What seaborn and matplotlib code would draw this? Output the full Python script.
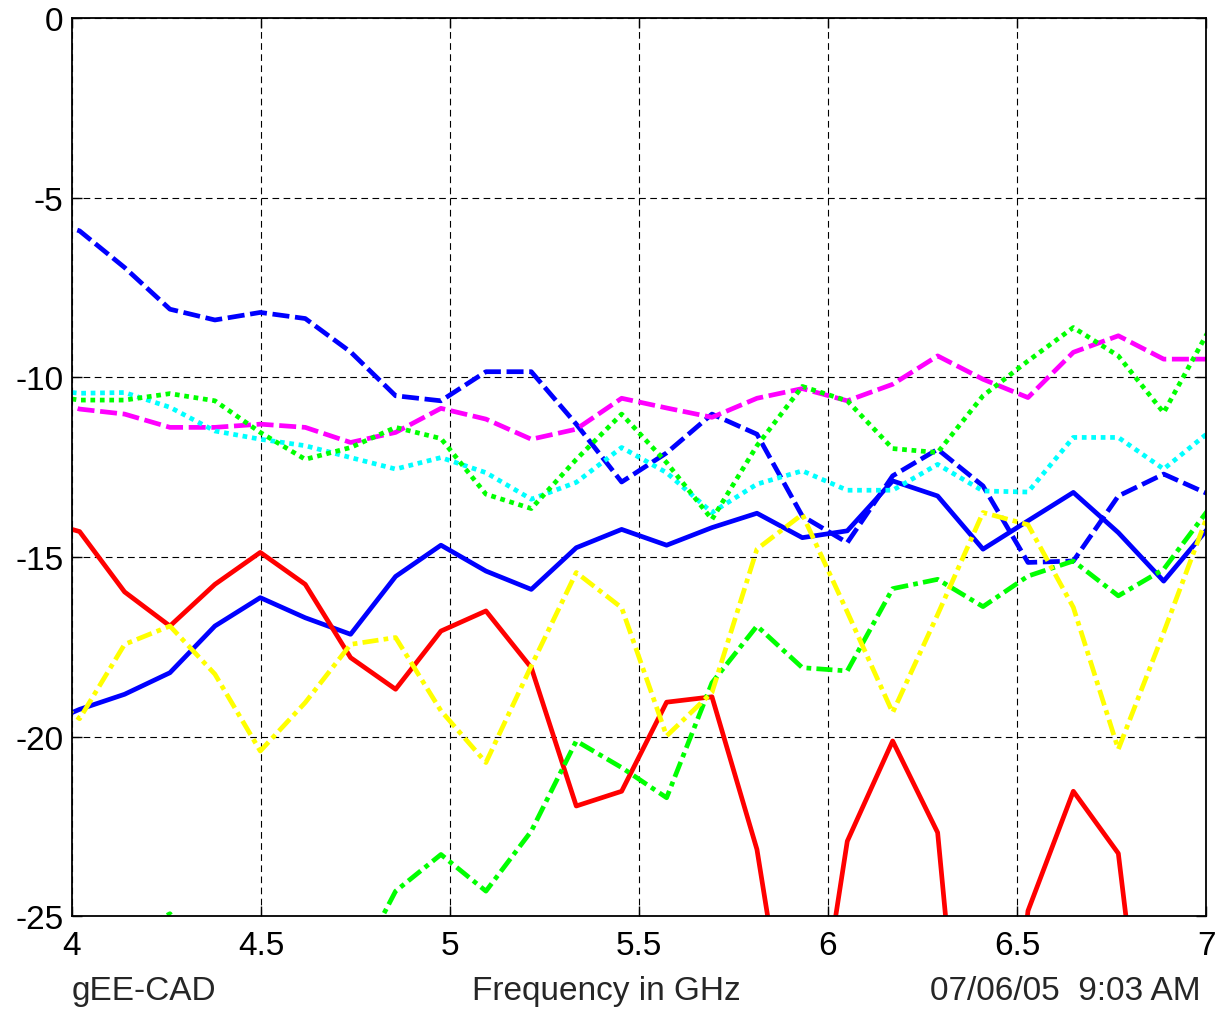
import matplotlib
matplotlib.use("Agg")
import matplotlib.pyplot as plt
import seaborn as sns
import pandas as pd

# Frequency sweep points (GHz)
freq = [3.900, 4.020, 4.139, 4.259, 4.378, 4.498, 4.617, 4.737, 4.856,
        4.976, 5.095, 5.215, 5.334, 5.454, 5.573, 5.693, 5.812, 5.932,
        6.051, 6.171, 6.290, 6.410, 6.529, 6.649, 6.768, 6.888, 7.007]

# Response curves in dB
blue_dashed = [-5.50, -5.92, -6.94, -8.10, -8.40, -8.19, -8.36, -9.29, -10.51,
               -10.65, -9.84, -9.84, -11.30, -12.91, -12.10, -11.02, -11.58, -13.86,
               -14.60, -12.74, -12.00, -13.02, -15.15, -15.11, -13.30, -12.69, -13.25]
magenta_dashed = [-10.50, -10.88, -11.02, -11.39, -11.39, -11.30, -11.39, -11.81, -11.53,
                  -10.86, -11.16, -11.72, -11.44, -10.58, -10.85, -11.11, -10.58, -10.31,
                  -10.65, -10.19, -9.40, -10.05, -10.56, -9.30, -8.84, -9.49, -9.49]
green_dotted = [-10.45, -10.63, -10.63, -10.45, -10.65, -11.53, -12.28, -11.95, -11.39,
                -11.70, -13.25, -13.65, -12.28, -11.02, -12.37, -13.95, -11.90, -10.25,
                -10.65, -11.98, -12.09, -10.51, -9.54, -8.61, -9.40, -10.98, -8.70]
cyan_dotted = [-10.32, -10.44, -10.42, -10.83, -11.49, -11.72, -11.90, -12.23, -12.55,
               -12.23, -12.65, -13.39, -12.92, -11.95, -12.65, -13.76, -12.97, -12.60,
               -13.14, -13.14, -12.42, -13.16, -13.19, -11.67, -11.67, -12.55, -11.53]
blue_solid = [-19.78, -19.24, -18.82, -18.22, -16.92, -16.13, -16.69, -17.15, -15.54,
              -14.67, -15.39, -15.90, -14.74, -14.23, -14.67, -14.18, -13.78, -14.46,
              -14.27, -12.88, -13.30, -14.78, -13.99, -13.20, -14.32, -15.67, -14.18]
red_solid = [-13.93, -14.29, -15.97, -16.92, -15.76, -14.87, -15.76, -17.80, -18.68,
             -17.06, -16.50, -18.08, -21.93, -21.52, -19.04, -18.89, -23.14, -31.00,
             -22.91, -20.12, -22.67, -36.00, -24.85, -21.52, -23.25, -33.70, -33.00]
yellow_dashdot = [-18.60, -19.50, -17.43, -16.92, -18.26, -20.40, -19.05, -17.43, -17.24,
                  -19.28, -20.72, -18.03, -15.43, -16.41, -19.98, -18.77, -14.78, -13.81,
                  -16.53, -19.33, -16.60, -13.76, -14.10, -16.40, -20.35, -17.10, -13.76]
green_dashdot = [-28.00, -27.50, -25.60, -24.93, -26.50, -28.00, -28.50, -26.70, -24.30,
                 -23.28, -24.30, -22.63, -20.12, -20.86, -21.70, -18.50, -16.92, -18.08,
                 -18.17, -15.88, -15.62, -16.38, -15.53, -15.11, -16.08, -15.34, -13.67]

x_ticks = [4, 4.5, 5, 5.5, 6, 6.5, 7]
x_tick_labels = ["4", "4.5", "5", "5.5", "6", "6.5", "7"]
y_ticks = [0, -5, -10, -15, -20, -25]
y_tick_labels = ["0", "-5", "-10", "-15", "-20", "-25"]

sns.set_theme(style="white")
plt.rcParams["font.family"] = ["Liberation Sans", "DejaVu Sans"]
plt.rcParams["axes.unicode_minus"] = False

fig = plt.figure(figsize=(12.25, 10.12), dpi=100)
ax = fig.add_axes([0.0588, 0.0936, 0.9257, 0.8874])

dash = (0, (3.6, 1.2))
dot = (0, (1.0, 1.0))
dashdot = (0, (3.4, 1.1, 1.0, 1.1))

series = [
    (blue_solid, "#0000ff", "-"),
    (red_solid, "#ff0000", "-"),
    (blue_dashed, "#0000ff", dash),
    (magenta_dashed, "#ff00ff", dash),
    (cyan_dotted, "#00ffff", dot),
    (green_dotted, "#00ff00", dot),
    (green_dashdot, "#00ff00", dashdot),
    (yellow_dashdot, "#ffff00", dashdot),
]

for vals, col, ls in series:
    df = pd.DataFrame({"f": freq, "db": vals})
    sns.lineplot(data=df, x="f", y="db", ax=ax, color=col, linestyle=ls,
                 linewidth=3.4, sort=False, estimator=None,
                 solid_capstyle="butt", dash_capstyle="butt")

ax.set_xlim(4, 7)
ax.set_ylim(-25, 0)
ax.set_xticks(x_ticks)
ax.set_xticklabels(x_tick_labels)
ax.set_yticks(y_ticks)
ax.set_yticklabels(y_tick_labels)
ax.set_xlabel("")
ax.set_ylabel("")

ax.grid(True, color="black", linestyle=(0, (6, 4)), linewidth=0.8)
ax.set_axisbelow(True)
for sp in ax.spines.values():
    sp.set_color("black")
    sp.set_linewidth(1.3)
    sp.set_visible(True)

ax.tick_params(axis="both", which="major", direction="in", length=7,
               width=1.0, color="black", labelsize=24, labelcolor="black",
               top=True, right=True, bottom=True, left=True)
ax.tick_params(axis="x", pad=10)
ax.tick_params(axis="y", pad=6)

fig.text(0.0588, 0.0119, "gEE-CAD", fontsize=24, ha="left", va="baseline")
fig.text(0.495, 0.0119, "Frequency in GHz", fontsize=24, ha="center", va="baseline")
fig.text(0.980, 0.0119, "07/06/05  9:03 AM", fontsize=24, ha="right", va="baseline")

fig.savefig("out.png", dpi=100, facecolor="white")
